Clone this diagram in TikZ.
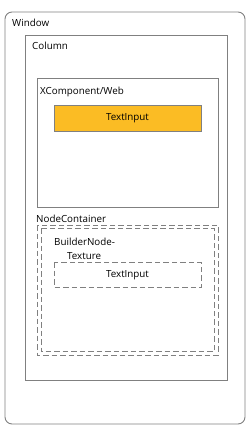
\documentclass[tikz,border=0pt]{standalone}
\usepackage{fontspec}
\setmainfont{Open Sans}
\definecolor{lineg}{HTML}{808080}
\definecolor{yel}{HTML}{FBBC24}
\begin{document}
\begin{tikzpicture}[x=1pt,y=-1pt,
  box/.style={draw=lineg,line width=0.9pt},
  dbox/.style={draw=lineg,line width=0.9pt,dash pattern=on 5.5pt off 3pt},
  lbl/.style={anchor=west,inner sep=0pt,font=\fontsize{9.8}{11}\selectfont,text=black}]
\useasboundingbox (0,0) rectangle (251,429);
\draw[box,rounded corners=7pt] (5,12) rectangle (245,424);
\node[lbl] (win) at (12,23) {Window};
\draw[box] (25,35) rectangle (227,380);
\node[lbl] (col) at (32,46) {Column};
\draw[box] (37,78) rectangle (218,207);
\node[lbl] (xc) at (40,92) {XComponent/Web};
\draw[box,fill=yel] (54,105) rectangle (201,131);
\node[lbl,anchor=center] (ti1) at (127.5,118) {TextInput};
\node[lbl] (nc) at (36,219) {NodeContainer};
\draw[dbox] (37,225) rectangle (218,355);
\draw[dbox] (41,228.5) rectangle (214,351.5);
\node[lbl] (bn) at (54,242) {BuilderNode-};
\node[lbl] (tx) at (67,256) {Texture};
\draw[dbox] (54,262) rectangle (201,287);
\node[lbl,anchor=center] (ti2) at (127.5,275) {TextInput};
\end{tikzpicture}
\end{document}
